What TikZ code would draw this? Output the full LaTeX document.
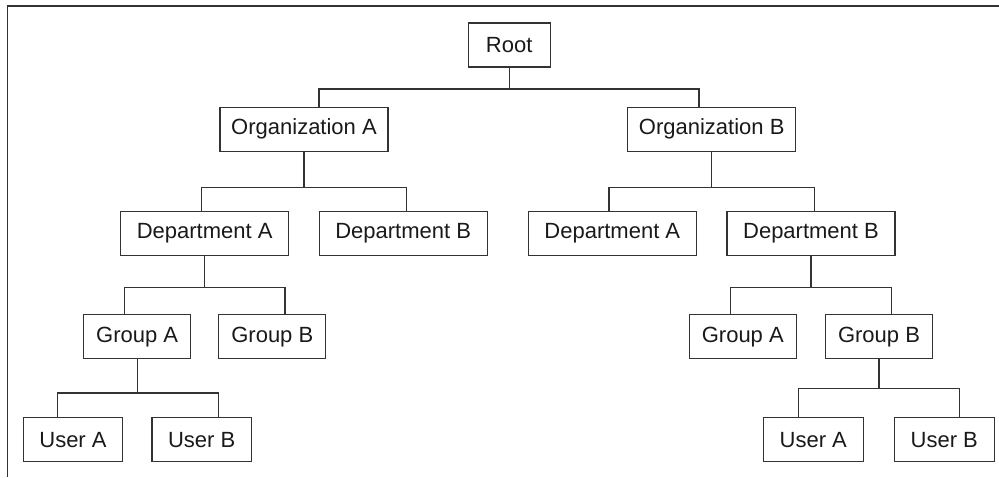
\documentclass[tikz,border=0pt]{standalone}
\usepackage{fontspec}
\setmainfont{Liberation Sans}
\begin{document}
\begin{tikzpicture}[x=1pt,y=-1pt,
  box/.style={draw=black!80,line width=1.1pt,text=black!90,inner sep=0pt,
    minimum height=44pt,font=\fontsize{22}{26}\selectfont},
  link/.style={draw=black!80,line width=1.1pt}]
\useasboundingbox (0,0) rectangle (999,477);
\path[draw,black!80,line width=1.1pt] (7.5,477) -- (7.5,6) -- (999,6);

\node[box,minimum width=82pt] (root) at (509.2,45) {Root};

\node[box,minimum width=168pt] (orgA) at (304,129.3) {Organization A};
\node[box,minimum width=168pt] (orgB) at (711.7,129.3) {Organization B};

\node[box,minimum width=168pt] (deptAA) at (204.7,233.5) {Department A};
\node[box,minimum width=168pt] (deptAB) at (403.2,233.5) {Department B};
\node[box,minimum width=168pt] (deptBA) at (612.3,233.5) {Department A};
\node[box,minimum width=168pt] (deptBB) at (811,233.5) {Department B};

\node[box,minimum width=107pt] (grpAA) at (137.2,336.7) {Group A};
\node[box,minimum width=107pt] (grpAB) at (272.3,336.7) {Group B};
\node[box,minimum width=107pt] (grpBA) at (742.8,336.7) {Group A};
\node[box,minimum width=107pt] (grpBB) at (879,336.7) {Group B};

\node[box,minimum width=99.5pt] (usrAA) at (73,439.7) {User A};
\node[box,minimum width=99.5pt] (usrAB) at (201.7,439.7) {User B};
\node[box,minimum width=99.5pt] (usrBA) at (813.3,439.7) {User A};
\node[box,minimum width=99.5pt] (usrBB) at (944.3,439.7) {User B};

\path[link] (root.south) -- ++(0,21.4);
\path[link] ([xshift=15pt]orgA.north) |- ([yshift=-21.4pt]root.south) -| ([xshift=-12.7pt]orgB.north);

\path[link] (orgA.south) -- ++(0,35.6);
\path[link] ([xshift=-3.4pt]deptAA.north) |- ([yshift=-35.6pt]orgA.south) -| ([xshift=3.5pt]deptAB.north);
\path[link] (orgB.south) -- ++(0,35.6);
\path[link] ([xshift=-3.3pt]deptBA.north) |- ([yshift=-35.6pt]orgB.south) -| ([xshift=3.3pt]deptBB.north);

\path[link] (deptAA.south) -- ++(0,31.7);
\path[link] ([xshift=-12.9pt]grpAA.north) |- ([yshift=-31.7pt]deptAA.south) -| ([xshift=12.7pt]grpAB.north);
\path[link] (deptBB.south) -- ++(0,31.7);
\path[link] ([xshift=-12.5pt]grpBA.north) |- ([yshift=-31.7pt]deptBB.south) -| ([xshift=12.3pt]grpBB.north);

\path[link] (grpAA.south) -- ++(0,33.7);
\path[link] ([xshift=-15.7pt]usrAA.north) |- ([yshift=-33.7pt]grpAA.south) -| ([xshift=16.6pt]usrAB.north);
\path[link] (grpBB.south) -- ++(0,29);
\path[link] ([xshift=-14.6pt]usrBA.north) |- ([yshift=-29pt]grpBB.south) -| ([xshift=15pt]usrBB.north);

\end{tikzpicture}
\end{document}
